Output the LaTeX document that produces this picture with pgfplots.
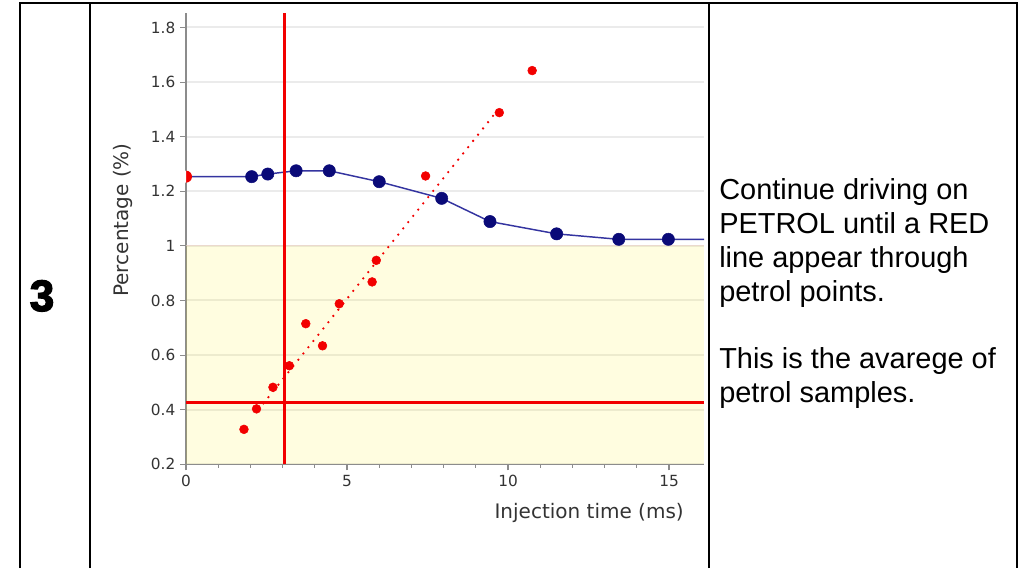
\documentclass[border=0pt]{standalone}
\usepackage{pgfplots}
\pgfplotsset{compat=1.18}
\usepackage{fontspec}
\setmainfont{Liberation Sans}
\newfontfamily\dejavu{DejaVu Sans}
\newfontfamily\heavy[FakeBold=3]{Liberation Sans Bold}
\definecolor{navy}{HTML}{0A0A78}
\definecolor{navyline}{HTML}{3434A0}
\definecolor{creamy}{HTML}{FFF000}
\definecolor{bandedge}{HTML}{EBD2C3}
\definecolor{axgray}{HTML}{8C8C8C}
\definecolor{txt}{HTML}{333333}
\definecolor{pred}{HTML}{F20000}
\begin{document}
\begin{tikzpicture}
\useasboundingbox (0,0) rectangle (767.25pt,426pt);
% table frame
\draw[line width=1.1pt] (15pt,0) -- (15pt,423.75pt) -- (762.75pt,423.75pt) -- (762.75pt,0);
\draw[line width=1.1pt] (67.5pt,0) -- (67.5pt,423.75pt);
\draw[line width=1.1pt] (531.75pt,0) -- (531.75pt,423.75pt);
\node[anchor=base, inner sep=0, font=\heavy\fontsize{33}{36}\selectfont] at (31.5pt,192.75pt) {3};
\begin{scope}[every node/.style={anchor=base west, inner sep=0, font=\fontsize{21.7}{25}\selectfont}]
\node at (539.25pt,276pt) {Continue driving on};
\node at (539.25pt,250.725pt) {PETROL until a RED};
\node at (539.25pt,225.45pt) {line appear through};
\node at (539.25pt,200.175pt) {petrol points.};
\node at (539.25pt,149.625pt) {This is the avarege of};
\node at (539.25pt,124.35pt) {petrol samples.};
\end{scope}
\begin{axis}[
  at={(139.5pt,77.775pt)}, anchor=south west,
  width=388.5pt, height=338.5pt, scale only axis,
  xmin=0, xmax=16.087, ymin=0.2, ymax=1.853,
  axis x line=bottom, axis y line=left,
  axis line style={-, draw=axgray, line width=0.9pt},
  tick align=outside, major tick length=4.5pt, minor tick length=2.5pt,
  tick style={axgray, line width=0.8pt},
  xtick={0,5,10,15}, minor x tick num=4,
  ytick={0.2,0.4,...,1.8},
  ymajorgrids,
  major grid style={draw=black, opacity=0.08, line width=1.5pt},
  /pgf/number format/assume math mode=true,
  ticklabel style={font=\dejavu\fontsize{11.5}{13}\selectfont, text=txt},
  xlabel={Injection time (ms)}, ylabel={Percentage (\%)},
  label style={font=\dejavu\fontsize{15}{18}\selectfont, text=txt, inner sep=0pt},
  xlabel style={at={(axis description cs:0.9614,-0.1197)}, anchor=base east},
  ylabel style={at={(axis description cs:-0.1216,0.5413)}, anchor=center},
]
\addplot[draw=none, fill=creamy, fill opacity=0.12] coordinates {(0,1) (16.087,1)} \closedcycle;
\addplot[draw=bandedge, line width=0.8pt, opacity=0.7] coordinates {(0,1) (16.087,1)};
% blue series
\addplot[navyline, line width=1.1pt, no marks] coordinates {
(0,1.2535) (2.04,1.2535) (2.54,1.263) (3.42,1.275) (4.45,1.275) (6.00,1.235)
(7.94,1.174) (9.44,1.089) (11.51,1.044) (13.44,1.024) (14.98,1.024) (16.087,1.024)};
\addplot[only marks, mark=*, mark size=4.6pt, navy, mark options={draw=navy, fill=navy}] coordinates {
(2.04,1.2535) (2.54,1.263) (3.42,1.275) (4.45,1.275) (6.00,1.235)
(7.94,1.174) (9.44,1.089) (11.51,1.044) (13.44,1.024) (14.98,1.024)};
% red reference lines
\addplot[pred, line width=1.9pt, no marks] coordinates {(3.053,0.2) (3.053,1.853)};
\addplot[pred, line width=1.9pt, no marks] coordinates {(0,0.427) (16.087,0.427)};
% red points
\addplot[only marks, mark=*, mark size=3.3pt, mark options={draw=pred, fill=pred}] coordinates {
(1.80,0.328) (2.19,0.403) (2.70,0.482) (3.21,0.561) (3.72,0.715) (4.24,0.634)
(4.76,0.788) (5.78,0.868) (5.91,0.947) (7.44,1.256) (9.73,1.488) (10.75,1.642)};
\addplot[pred, only marks, mark=halfcircle*, mark size=4.5pt, mark options={solid, draw=pred, fill=pred, draw opacity=0, rotate=-90}] coordinates {(0,1.2535)};
% regression line
\addplot[pred, line width=1.9pt, line cap=round, dash pattern=on 0pt off 6pt, no marks] coordinates {(2.25,0.40) (9.55,1.478)};
\end{axis}
\end{tikzpicture}
\end{document}
